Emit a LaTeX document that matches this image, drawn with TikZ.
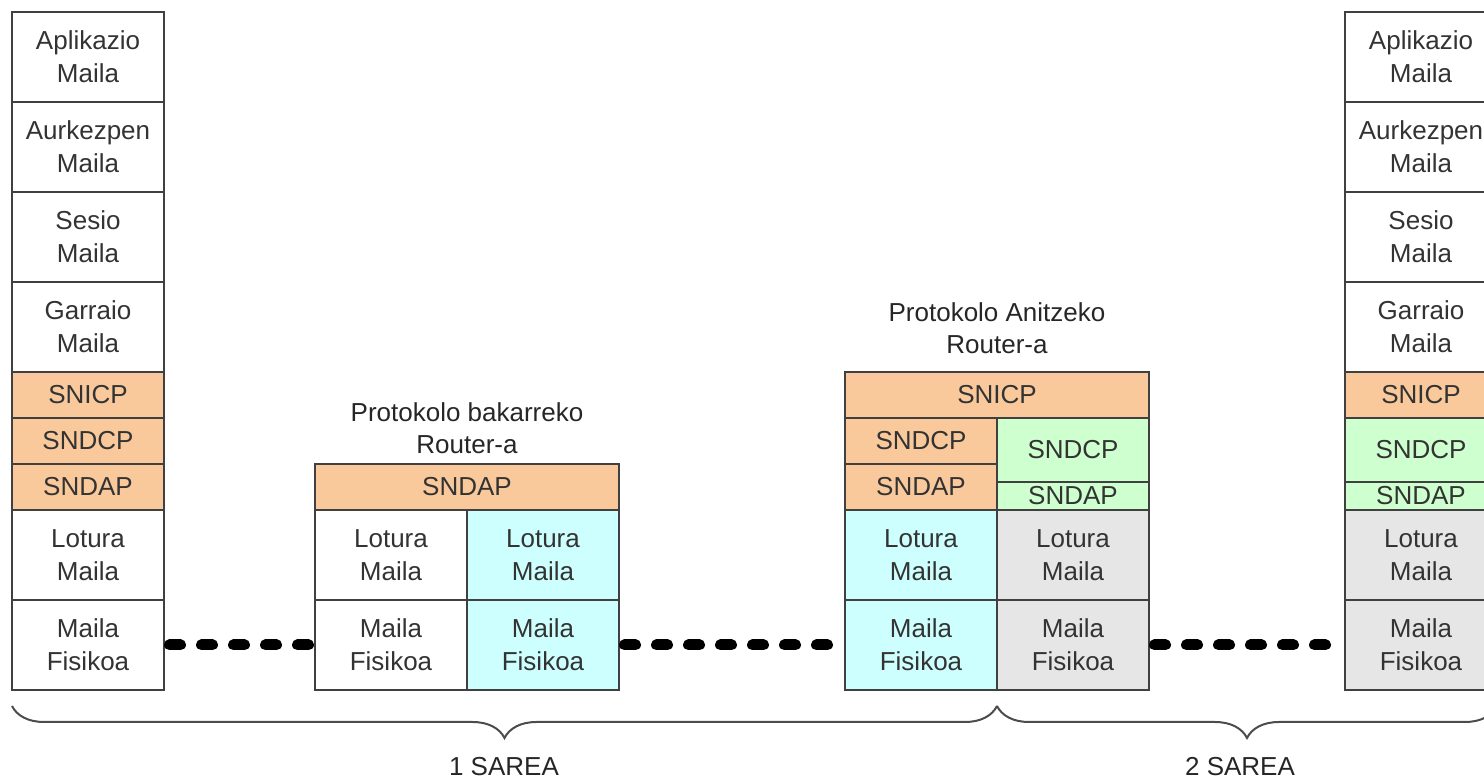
\documentclass[tikz,border=0pt]{standalone}
\usepackage{fontspec}
\setmainfont{Liberation Sans}
\usetikzlibrary{positioning,decorations.pathreplacing}

\definecolor{osiorange}{RGB}{249,201,156}
\definecolor{osicyan}{RGB}{206,255,255}
\definecolor{osigreen}{RGB}{206,255,206}
\definecolor{osigray}{RGB}{230,230,230}

\tikzset{
  layer/.style={draw=black!75, line width=1pt, fill=white, text=black!80,
    minimum width=76pt, minimum height=45pt, inner sep=0pt, outer sep=0pt,
    align=center, font=\fontsize{13}{16.5}\selectfont},
  thin layer/.style={layer, minimum height=23pt},
  wide/.style={minimum width=152pt},
  caption/.style={inner sep=0pt, align=center, text=black!85,
    font=\fontsize{13}{16}\selectfont},
  wire/.style={line width=5.5pt, line cap=round, dash pattern=on 5.5pt off 10.5pt,
    shorten <=2.75pt, shorten >=2.75pt},
  net brace/.style={draw=black!70, line width=1pt, decorate,
    decoration={brace, mirror, amplitude=16pt}}
}

\begin{document}
\begin{tikzpicture}[x=0.5pt, y=-0.5pt]
  \useasboundingbox (0,0) rectangle (1484,779);
  \clip (0,0) rectangle (1484,779);

  % left end system
  \node[layer, anchor=north west] (app A)   at (12,12)         {Aplikazio\\Maila};
  \node[layer]                    (pres A)  [below=0pt of app A]   {Aurkezpen\\Maila};
  \node[layer]                    (ses A)   [below=0pt of pres A]  {Sesio\\Maila};
  \node[layer]                    (trans A) [below=0pt of ses A]   {Garraio\\Maila};
  \node[thin layer, fill=osiorange] (snicp A) [below=0pt of trans A] {SNICP};
  \node[thin layer, fill=osiorange] (sndcp A) [below=0pt of snicp A] {SNDCP};
  \node[thin layer, fill=osiorange] (sndap A) [below=0pt of sndcp A] {SNDAP};
  \node[layer]                    (link A)  [below=0pt of sndap A] {Lotura\\Maila};
  \node[layer]                    (phys A)  [below=0pt of link A]  {Maila\\Fisikoa};

  % single protocol router
  \node[thin layer, wide, fill=osiorange, anchor=north west] (sndap R1) at (315,464) {SNDAP};
  \node[layer, anchor=north west]  (link R1a) at (sndap R1.south west) {Lotura\\Maila};
  \node[layer, fill=osicyan]       (link R1b) [right=0pt of link R1a]  {Lotura\\Maila};
  \node[layer]                     (phys R1a) [below=0pt of link R1a]  {Maila\\Fisikoa};
  \node[layer, fill=osicyan]       (phys R1b) [below=0pt of link R1b]  {Maila\\Fisikoa};
  \node[caption] (name R1) [above=5pt of sndap R1] {Protokolo bakarreko\\Router-a};

  % multi protocol router
  \node[thin layer, wide, fill=osiorange, anchor=north west] (snicp R2) at (845,372) {SNICP};
  \node[thin layer, fill=osiorange, anchor=north west] (sndcp R2a) at (snicp R2.south west) {SNDCP};
  \node[thin layer, fill=osiorange] (sndap R2a) [below=0pt of sndcp R2a] {SNDAP};
  \node[layer, fill=osicyan]        (link R2a)  [below=0pt of sndap R2a] {Lotura\\Maila};
  \node[layer, fill=osicyan]        (phys R2a)  [below=0pt of link R2a]  {Maila\\Fisikoa};
  \node[layer, fill=osigreen, minimum height=32pt, anchor=north east] (sndcp R2b) at (snicp R2.south east) {SNDCP};
  \node[layer, fill=osigreen, minimum height=14pt] (sndap R2b) [below=0pt of sndcp R2b] {SNDAP};
  \node[layer, fill=osigray]        (link R2b)  [below=0pt of sndap R2b] {Lotura\\Maila};
  \node[layer, fill=osigray]        (phys R2b)  [below=0pt of link R2b]  {Maila\\Fisikoa};
  \node[caption] (name R2) [above=9pt of snicp R2] {Protokolo Anitzeko\\Router-a};

  % right end system
  \node[layer, anchor=north west] (app B)   at (1345,12)       {Aplikazio\\Maila};
  \node[layer]                    (pres B)  [below=0pt of app B]   {Aurkezpen\\Maila};
  \node[layer]                    (ses B)   [below=0pt of pres B]  {Sesio\\Maila};
  \node[layer]                    (trans B) [below=0pt of ses B]   {Garraio\\Maila};
  \node[thin layer, fill=osiorange] (snicp B) [below=0pt of trans B] {SNICP};
  \node[layer, fill=osigreen, minimum height=32pt] (sndcp B) [below=0pt of snicp B] {SNDCP};
  \node[layer, fill=osigreen, minimum height=14pt] (sndap B) [below=0pt of sndcp B] {SNDAP};
  \node[layer, fill=osigray]      (link B)  [below=0pt of sndap B] {Lotura\\Maila};
  \node[layer, fill=osigray]      (phys B)  [below=0pt of link B]  {Maila\\Fisikoa};

  % physical links
  \draw[wire] (phys A) -- (phys R1a);
  \draw[wire] (phys R1b) -- (phys R2a);
  \draw[wire] (phys R2b) -- (phys B);

  % networks
  \draw[net brace] ([yshift=-8pt]phys A.south west) -- ([yshift=-8pt]phys R2a.south east);
  \draw[net brace] ([yshift=-8pt]phys R2b.south west) -- ([yshift=-8pt]phys B.south east);
  \node[caption] (net 1) at (504,767)  {1 SAREA};
  \node[caption] (net 2) at (1240,767) {2 SAREA};
\end{tikzpicture}
\end{document}
